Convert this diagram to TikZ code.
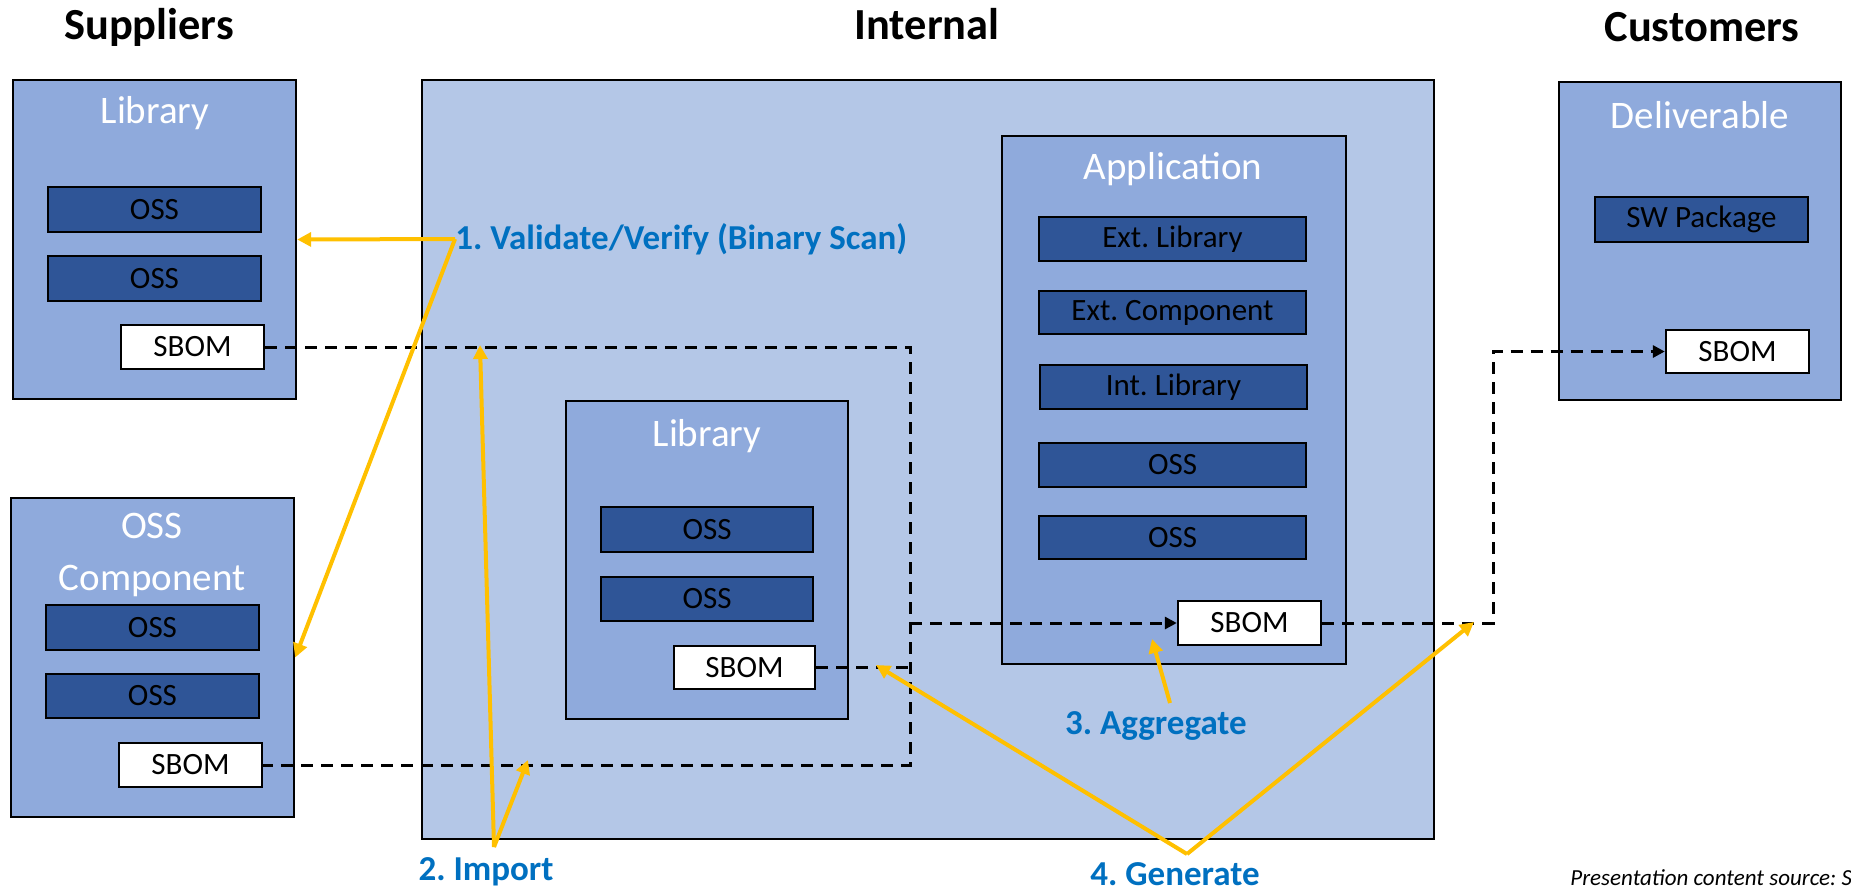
\documentclass[tikz,border=0pt]{standalone}
\usepackage{fontspec}
\setmainfont{Carlito}
\usetikzlibrary{fit,arrows.meta,calc}
\definecolor{lightbg}{HTML}{B4C7E7}
\definecolor{midbg}{HTML}{8FAADC}
\definecolor{darkbg}{HTML}{2F5597}
\definecolor{arrowyel}{HTML}{FFC000}
\definecolor{labelblue}{HTML}{0070C0}
\frenchspacing
\begin{document}
\begin{tikzpicture}[x=0.5pt,y=-0.5pt,
  outerbox/.style={draw=black, line width=1.2pt, fill=midbg, inner sep=0pt},
  innerbg/.style={draw=black, line width=1.2pt, fill=lightbg, inner sep=0pt},
  boxtext/.style={text=black, inner sep=0pt, font=\fontsize{15.5}{18}\selectfont},
  darkbox/.style={draw=black, line width=1.2pt, fill=darkbg, inner sep=0pt},
  sbombox/.style={draw=black, line width=1.2pt, fill=white, inner sep=0pt},
  boxtitle/.style={text=white, align=center, font=\fontsize{19.5}{24}\selectfont},
  heading/.style={font=\bfseries\fontsize{22.2}{26}\selectfont},
  steplabel/.style={text=labelblue, inner sep=0pt, font=\bfseries\fontsize{17.5}{20}\selectfont},
  yarrow/.style={draw=arrowyel, line width=2pt, -{Triangle[length=7pt,width=7pt]}},
  flow/.style={draw=black, line width=1.5pt, dash pattern=on 6pt off 4pt},
  flowarrow/.style={flow, -{Triangle[length=6pt,width=6pt]}},
]
\useasboundingbox (0,0) rectangle (1851,891);

% headings
\node[heading] (hsup) at (149,27) {Suppliers};
\node[heading] (hint) at (927,24) {Internal};
\node[heading] (hcus) at (1702,27) {Customers};

% suppliers: library
\node[outerbox, fit={(13,80) (296,399)}] (slib) {};
\node[boxtitle] (slibt) at (155,113) {Library};
\node[darkbox, fit={(48,187) (261,232)}, label={[boxtext]center:OSS}] (slo1) {};
\node[darkbox, fit={(48,256) (261,301)}, label={[boxtext]center:OSS}] (slo2) {};
\node[sbombox, fit={(121,325) (264,369)}, label={[boxtext]center:SBOM}] (ssbom1) {};

% suppliers: OSS component
\node[outerbox, fit={(11,498) (294,817)}] (scomp) {};
\node[boxtitle] (scompt) at (152,555) {OSS\\[2pt]Component};
\node[darkbox, fit={(46,605) (259,650)}, label={[boxtext]center:OSS}] (sco1) {};
\node[darkbox, fit={(46,674) (259,718)}, label={[boxtext]center:OSS}] (sco2) {};
\node[sbombox, fit={(119,743) (262,787)}, label={[boxtext]center:SBOM}] (ssbom2) {};

% internal
\node[innerbg, fit={(422,80) (1434,839)}] (internal) {};

\node[outerbox, fit={(566,401) (848,719)}] (ilib) {};
\node[boxtitle] (ilibt) at (707,436) {Library};
\node[darkbox, fit={(601,507) (813,552)}, label={[boxtext]center:OSS}] (ilo1) {};
\node[darkbox, fit={(601,577) (813,621)}, label={[boxtext]center:OSS}] (ilo2) {};
\node[sbombox, fit={(674,646) (815,689)}, label={[boxtext]center:SBOM}] (isbom) {};

\node[outerbox, fit={(1002,136) (1346,664)}] (app) {};
\node[boxtitle] (appt) at (1173,169) {Application};
\node[darkbox, fit={(1039,217) (1306,261)}, label={[boxtext]center:Ext. Library}] (aextlib) {};
\node[darkbox, fit={(1039,291) (1306,334)}, label={[boxtext]center:Ext. Component}] (aextcomp) {};
\node[darkbox, fit={(1040,365) (1307,409)}, label={[boxtext]center:Int. Library}] (aintlib) {};
\node[darkbox, fit={(1039,443) (1306,487)}, label={[boxtext]center:OSS}] (aoss1) {};
\node[darkbox, fit={(1039,516) (1306,559)}, label={[boxtext]center:OSS}] (aoss2) {};
\node[sbombox, fit={(1178,601) (1321,645)}, label={[boxtext]center:SBOM}] (asbom) {};

% customers
\node[outerbox, fit={(1559,82) (1841,400)}] (deliv) {};
\node[boxtitle] (delivt) at (1700,115) {Deliverable};
\node[darkbox, fit={(1595,197) (1808,242)}, label={[boxtext]center:SW Package}] (swpkg) {};
\node[sbombox, fit={(1666,330) (1809,373)}, label={[boxtext]center:SBOM}] (csbom) {};

% dashed SBOM flows
\coordinate (jx) at (910,0);
\coordinate (ox) at (1493,0);
\draw[flow] (ssbom1.east) -- (jx |- ssbom1.east) -- (jx |- ssbom2.east) -- (ssbom2.east);
\draw[flow] (isbom.east) -- (jx |- isbom.east);
\draw[flowarrow] (jx |- asbom.west) -- (asbom.west);
\draw[flowarrow] (asbom.east) -- (ox |- asbom.east) -- (ox |- csbom.west) -- (csbom.west);

% step labels
\node[steplabel, anchor=west] (lval) at (455,239) {1. Validate/Verify (Binary Scan)};
\node[steplabel] (limp) at (486,872) {2. Import};
\node[steplabel] (lagg) at (1156,726) {3. Aggregate};
\node[steplabel] (lgen) at (1175,874) {4. Generate};

% yellow arrows
\draw[yarrow] (lval.west) -- (slib.east);
\draw[yarrow] (lval.west) -- (scomp.east);

\coordinate (vimp) at (494,847);
\coordinate (imptop) at (480,345);
\coordinate (impbot) at (528,760);
\draw[yarrow] (vimp) -- (imptop);
\draw[yarrow] (vimp) -- (impbot);

\coordinate (vagg) at (1170,703);
\coordinate (aggtip) at (1152,639);
\draw[yarrow] (vagg) -- (aggtip);

\coordinate (vgen) at (1187,854);
\coordinate (genl) at (876,665);
\coordinate (genr) at (1474,622);
\draw[yarrow] (vgen) -- (genl);
\draw[yarrow] (vgen) -- (genr);

% source note
\node[anchor=west, inner sep=0pt, font=\itshape\fontsize{11.5}{13}\selectfont] (src) at (1570,878) {Presentation content source: S};
\end{tikzpicture}
\end{document}
